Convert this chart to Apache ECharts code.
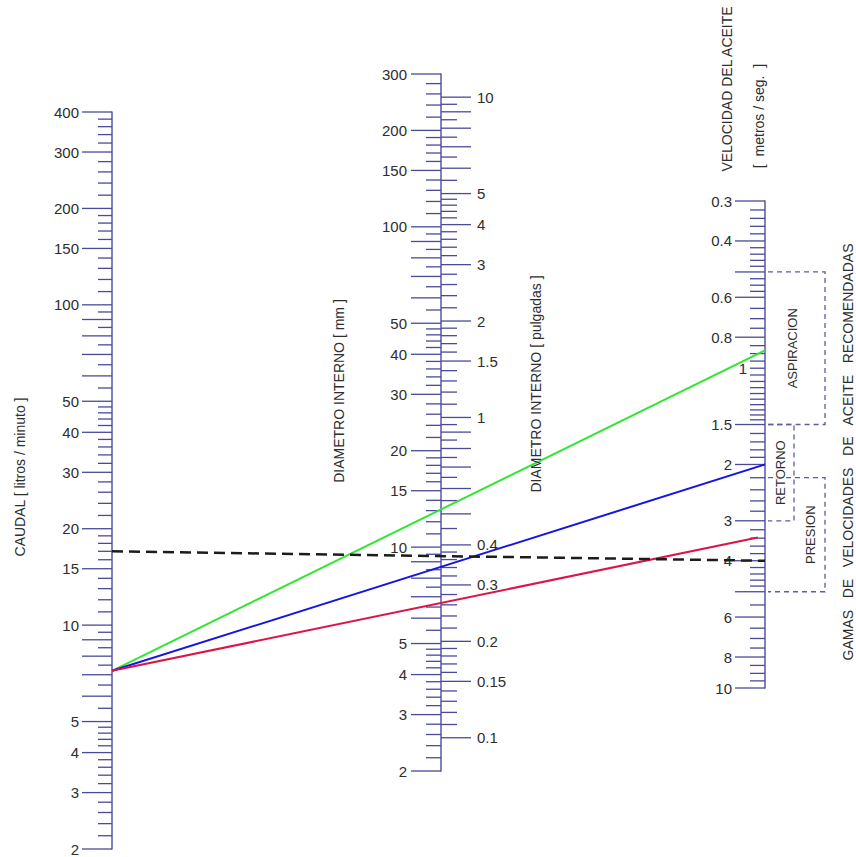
<!DOCTYPE html>
<html>
<head>
<meta charset="utf-8">
<style>
html,body{margin:0;padding:0;background:#ffffff;}
#chart{width:856px;height:857px;}
</style>
<script src="https://cdn.jsdelivr.net/npm/echarts/dist/echarts.min.js"></script>
</head>
<body>
<div id="chart"></div>
<script>
// ================= DATA =================
// CAUDAL [litros/minuto] scale
const caudalLabels = [2,3,4,5,10,15,20,30,40,50,100,150,200,300,400];
const caudalMajor  = [2,3,4,5,6,7,8,9,10,15,20,30,40,50,60,70,80,90,100,150,200,300,400];
const caudalMinor  = [2.2,2.4,2.6,2.8,3.2,3.4,3.6,3.8,4.2,4.4,4.6,4.8,5.5,6.5,7.5,8.5,9.5,
                      11,12,13,14,16,17,18,19,22,24,26,28,32,34,36,38,42,44,46,48,
                      55,65,75,85,95,110,120,130,140,160,170,180,190,220,240,260,280,
                      320,340,360,380];

// DIAMETRO INTERNO [mm] scale
const mmLabels = [2,3,4,5,10,15,20,30,40,50,100,150,200,300];
const mmMajor  = [2,3,4,5,6,7,8,9,10,15,20,30,40,50,60,70,80,90,100,150,200,300];
const mmMinor  = [2.2,2.4,2.6,2.8,3.2,3.4,3.6,3.8,4.2,4.4,4.6,4.8,5.5,6.5,7.5,8.5,9.5,
                  11,12,13,14,16,17,18,19,22,24,26,28,32,34,36,38,42,44,46,48,
                  55,65,75,85,95,110,120,130,140,160,170,180,190,220,240,260,280];

// DIAMETRO INTERNO [pulgadas] scale
const inchLabels = [0.1,0.15,0.2,0.3,0.4,1,1.5,2,3,4,5,10];
const inchMajor  = [0.1,0.15,0.2,0.3,0.4,0.5,0.6,0.7,0.8,0.9,1,1.5,2,3,4,5,6,7,8,9,10];
const inchMinor  = [0.11,0.12,0.13,0.14,0.16,0.17,0.18,0.19,0.22,0.24,0.26,0.28,
                    0.32,0.34,0.36,0.38,0.45,0.55,0.65,0.75,0.85,0.95,
                    1.1,1.2,1.3,1.4,1.6,1.7,1.8,1.9,2.2,2.4,2.6,2.8,
                    3.2,3.4,3.6,3.8,4.2,4.4,4.6,4.8,5.5,6.5,7.5,8.5,9.5];
const mmPerInch = 25.4;

// VELOCIDAD DEL ACEITE [m/s] scale
const velLabels = [0.3,0.4,0.6,0.8,1,1.5,2,3,4,6,8,10];
const velMajor  = [0.3,0.4,0.5,0.6,0.8,1.5,2,3,4,5,6,8,10];
const velMinor  = [0.32,0.34,0.36,0.38,0.42,0.44,0.46,0.48,0.525,0.55,0.575,
                   0.65,0.7,0.75,0.85,0.9,0.95,1,1.05,1.1,1.15,1.2,1.25,1.3,1.35,1.4,1.45,
                   1.6,1.7,1.8,1.9,2.2,2.4,2.6,2.8,3.2,3.4,3.6,3.8,4.2,4.4,4.6,4.8,
                   5.5,6.5,7,7.5,8.5,9,9.5];

// Recommended velocity ranges
const rangeNames = ['ASPIRACION','RETORNO','PRESION'];
const rangeFrom  = [0.5,1.5,2.2];
const rangeTo    = [1.5,3,5];

// Example lines (caudal -> velocidad)
const exampleCaudal    = [7.2,7.2,7.2];
const exampleVelocidad = [0.88,2.0,3.35];
const exampleReach     = [1,1,0.989];
// Reference dashed line
const refCaudal = 17;
const refVelocidad = 4;

// ================= STYLE / LAYOUT =================
const FONT = '"Liberation Sans", Arial, Helvetica, sans-serif';
const LABEL_FONT = '15px ' + FONT;
const TITLE_FONT = '14px ' + FONT;
const BOX_FONT = '13px ' + FONT;
const TEXT_COLOR = '#2e2e2e';
const AXIS_COLOR = '#6262aa';
const TICK_COLOR = '#4a4a98';
const BOX_COLOR = '#5c5ca2';
const exampleColors = ['#33e633','#1616e0','#dc1448'];
const boxRight = [60,29,60];
const boxLabelDx = [27,15,45];

function tickData(labels, major, minor) {
  const out = [];
  major.forEach(v => out.push([0, v, 1, labels.indexOf(v) >= 0 ? 1 : 0]));
  minor.forEach(v => out.push([0, v, 0, labels.indexOf(v) >= 0 ? 1 : 0]));
  return out;
}

function tickRenderer(side, majorLen, minorLen, gap) {
  const dir = side === 'left' ? -1 : 1;
  return function (params, api) {
    const v = api.value(1);
    const p = api.coord([0, v]);
    const len = api.value(2) ? majorLen : minorLen;
    const kids = [{
      type: 'line',
      shape: {x1: p[0], y1: p[1], x2: p[0] + dir * len, y2: p[1]},
      style: {stroke: TICK_COLOR, lineWidth: 1.3}
    }];
    if (api.value(3)) {
      kids.push({
        type: 'text',
        style: {
          text: String(v), x: p[0] + dir * (len + gap), y: p[1],
          textAlign: dir < 0 ? 'right' : 'left', textVerticalAlign: 'middle',
          font: LABEL_FONT, fill: TEXT_COLOR
        }
      });
    }
    return {type: 'group', children: kids};
  };
}

function boxRenderer(params, api) {
  const i = api.value(3);
  const pT = api.coord([0, api.value(1)]);
  const pB = api.coord([0, api.value(2)]);
  const x0 = pT[0] + 3, x1 = pT[0] + boxRight[i];
  return {
    type: 'group',
    children: [{
      type: 'polyline',
      shape: {points: [[x0, pT[1]], [x1, pT[1]], [x1, pB[1]], [x0, pB[1]]]},
      style: {stroke: BOX_COLOR, lineWidth: 1.3, lineDash: [5, 4], fill: null}
    }, {
      type: 'text',
      x: pT[0] + boxLabelDx[i], y: (pT[1] + pB[1]) / 2, rotation: Math.PI / 2,
      style: {text: rangeNames[i], textAlign: 'center', textVerticalAlign: 'middle',
              font: BOX_FONT, fill: TEXT_COLOR}
    }]
  };
}

function logAxis(gridIndex, min, max, showLine, inverse) {
  return {
    gridIndex, type: 'log', logBase: 10, min, max, inverse: !!inverse, position: 'left',
    axisLine: {show: showLine, onZero: false, lineStyle: {color: AXIS_COLOR, width: 1.6}},
    axisTick: {show: false}, axisLabel: {show: false}, splitLine: {show: false}
  };
}
function hiddenX(gridIndex) {
  return {gridIndex, type: 'value', min: 0, max: 1, show: false};
}

const chart = echarts.init(document.getElementById('chart'), null, {renderer: 'svg'});

const option = {
  animation: false,
  backgroundColor: '#ffffff',
  grid: [
    {left: 112, top: 112, width: 20, height: 737},
    {left: 441, top: 74, width: 20, height: 697},
    {left: 765, top: 201, width: 20, height: 487}
  ],
  xAxis: [hiddenX(0), hiddenX(1), hiddenX(2)],
  yAxis: [
    logAxis(0, 2, 400, true),
    logAxis(1, 2, 300, true),
    logAxis(1, 2 / mmPerInch, 300 / mmPerInch, false),
    logAxis(2, 0.3, 10, true, true)
  ],
  series: [
    {type: 'custom', xAxisIndex: 0, yAxisIndex: 0, clip: false, z: 3,
     renderItem: tickRenderer('left', 30, 14, 3), data: tickData(caudalLabels, caudalMajor, caudalMinor)},
    {type: 'custom', xAxisIndex: 1, yAxisIndex: 1, clip: false, z: 3,
     renderItem: tickRenderer('left', 30, 15, 4), data: tickData(mmLabels, mmMajor, mmMinor)},
    {type: 'custom', xAxisIndex: 1, yAxisIndex: 2, clip: false, z: 3,
     renderItem: tickRenderer('right', 30, 16, 6), data: tickData(inchLabels, inchMajor, inchMinor)},
    {type: 'custom', xAxisIndex: 2, yAxisIndex: 3, clip: false, z: 3,
     renderItem: tickRenderer('left', 30, 15, 3), data: tickData(velLabels, velMajor, velMinor)},
    {type: 'custom', xAxisIndex: 2, yAxisIndex: 3, clip: false, z: 2,
     renderItem: boxRenderer,
     data: rangeNames.map((n, i) => [0, rangeFrom[i], rangeTo[i], i])}
  ]
};
chart.setOption(option);

// ---- connecting lines computed from the axes' own scales ----
function px(xi, yi, v) {
  return chart.convertToPixel({xAxisIndex: xi, yAxisIndex: yi}, [0, v]);
}
function vText(id, text, x, y, font) {
  return {type: 'text', id, x, y, rotation: Math.PI / 2, z: 60,
    style: {text, font, fill: TEXT_COLOR, textAlign: 'center', textVerticalAlign: 'middle'}};
}
const graphics = [
  vText('t1', 'CAUDAL [ litros / minuto ]', 20, 477, TITLE_FONT),
  vText('t2', 'DIAMETRO INTERNO [ mm ]', 339, 391, TITLE_FONT),
  vText('t3', 'DIAMETRO INTERNO [ pulgadas ]', 536, 384, TITLE_FONT),
  vText('t4', 'VELOCIDAD DEL ACEITE', 727, 89, TITLE_FONT),
  vText('t5', '[  metros / seg.  ]', 759, 116, TITLE_FONT),
  vText('t6', 'GAMAS   DE   VELOCIDADES   DE   ACEITE   RECOMENDADAS', 848, 452, TITLE_FONT)
];
exampleCaudal.forEach((q, i) => {
  const a = px(0, 0, q);
  const b = px(2, 3, exampleVelocidad[i]);
  const r = exampleReach[i];
  graphics.push({
    type: 'line', id: 'ex' + i, z: 50,
    shape: {x1: a[0], y1: a[1], x2: a[0] + (b[0] - a[0]) * r, y2: a[1] + (b[1] - a[1]) * r},
    style: {stroke: exampleColors[i], lineWidth: 2}
  });
});
{
  const a = px(0, 0, refCaudal);
  const b = px(2, 3, refVelocidad);
  graphics.push({
    type: 'line', id: 'ref', z: 55,
    shape: {x1: a[0], y1: a[1], x2: b[0], y2: b[1]},
    style: {stroke: '#1c1c1c', lineWidth: 2.5, lineDash: [11, 6]}
  });
}
chart.setOption({graphic: graphics});
</script>
</body>
</html>
